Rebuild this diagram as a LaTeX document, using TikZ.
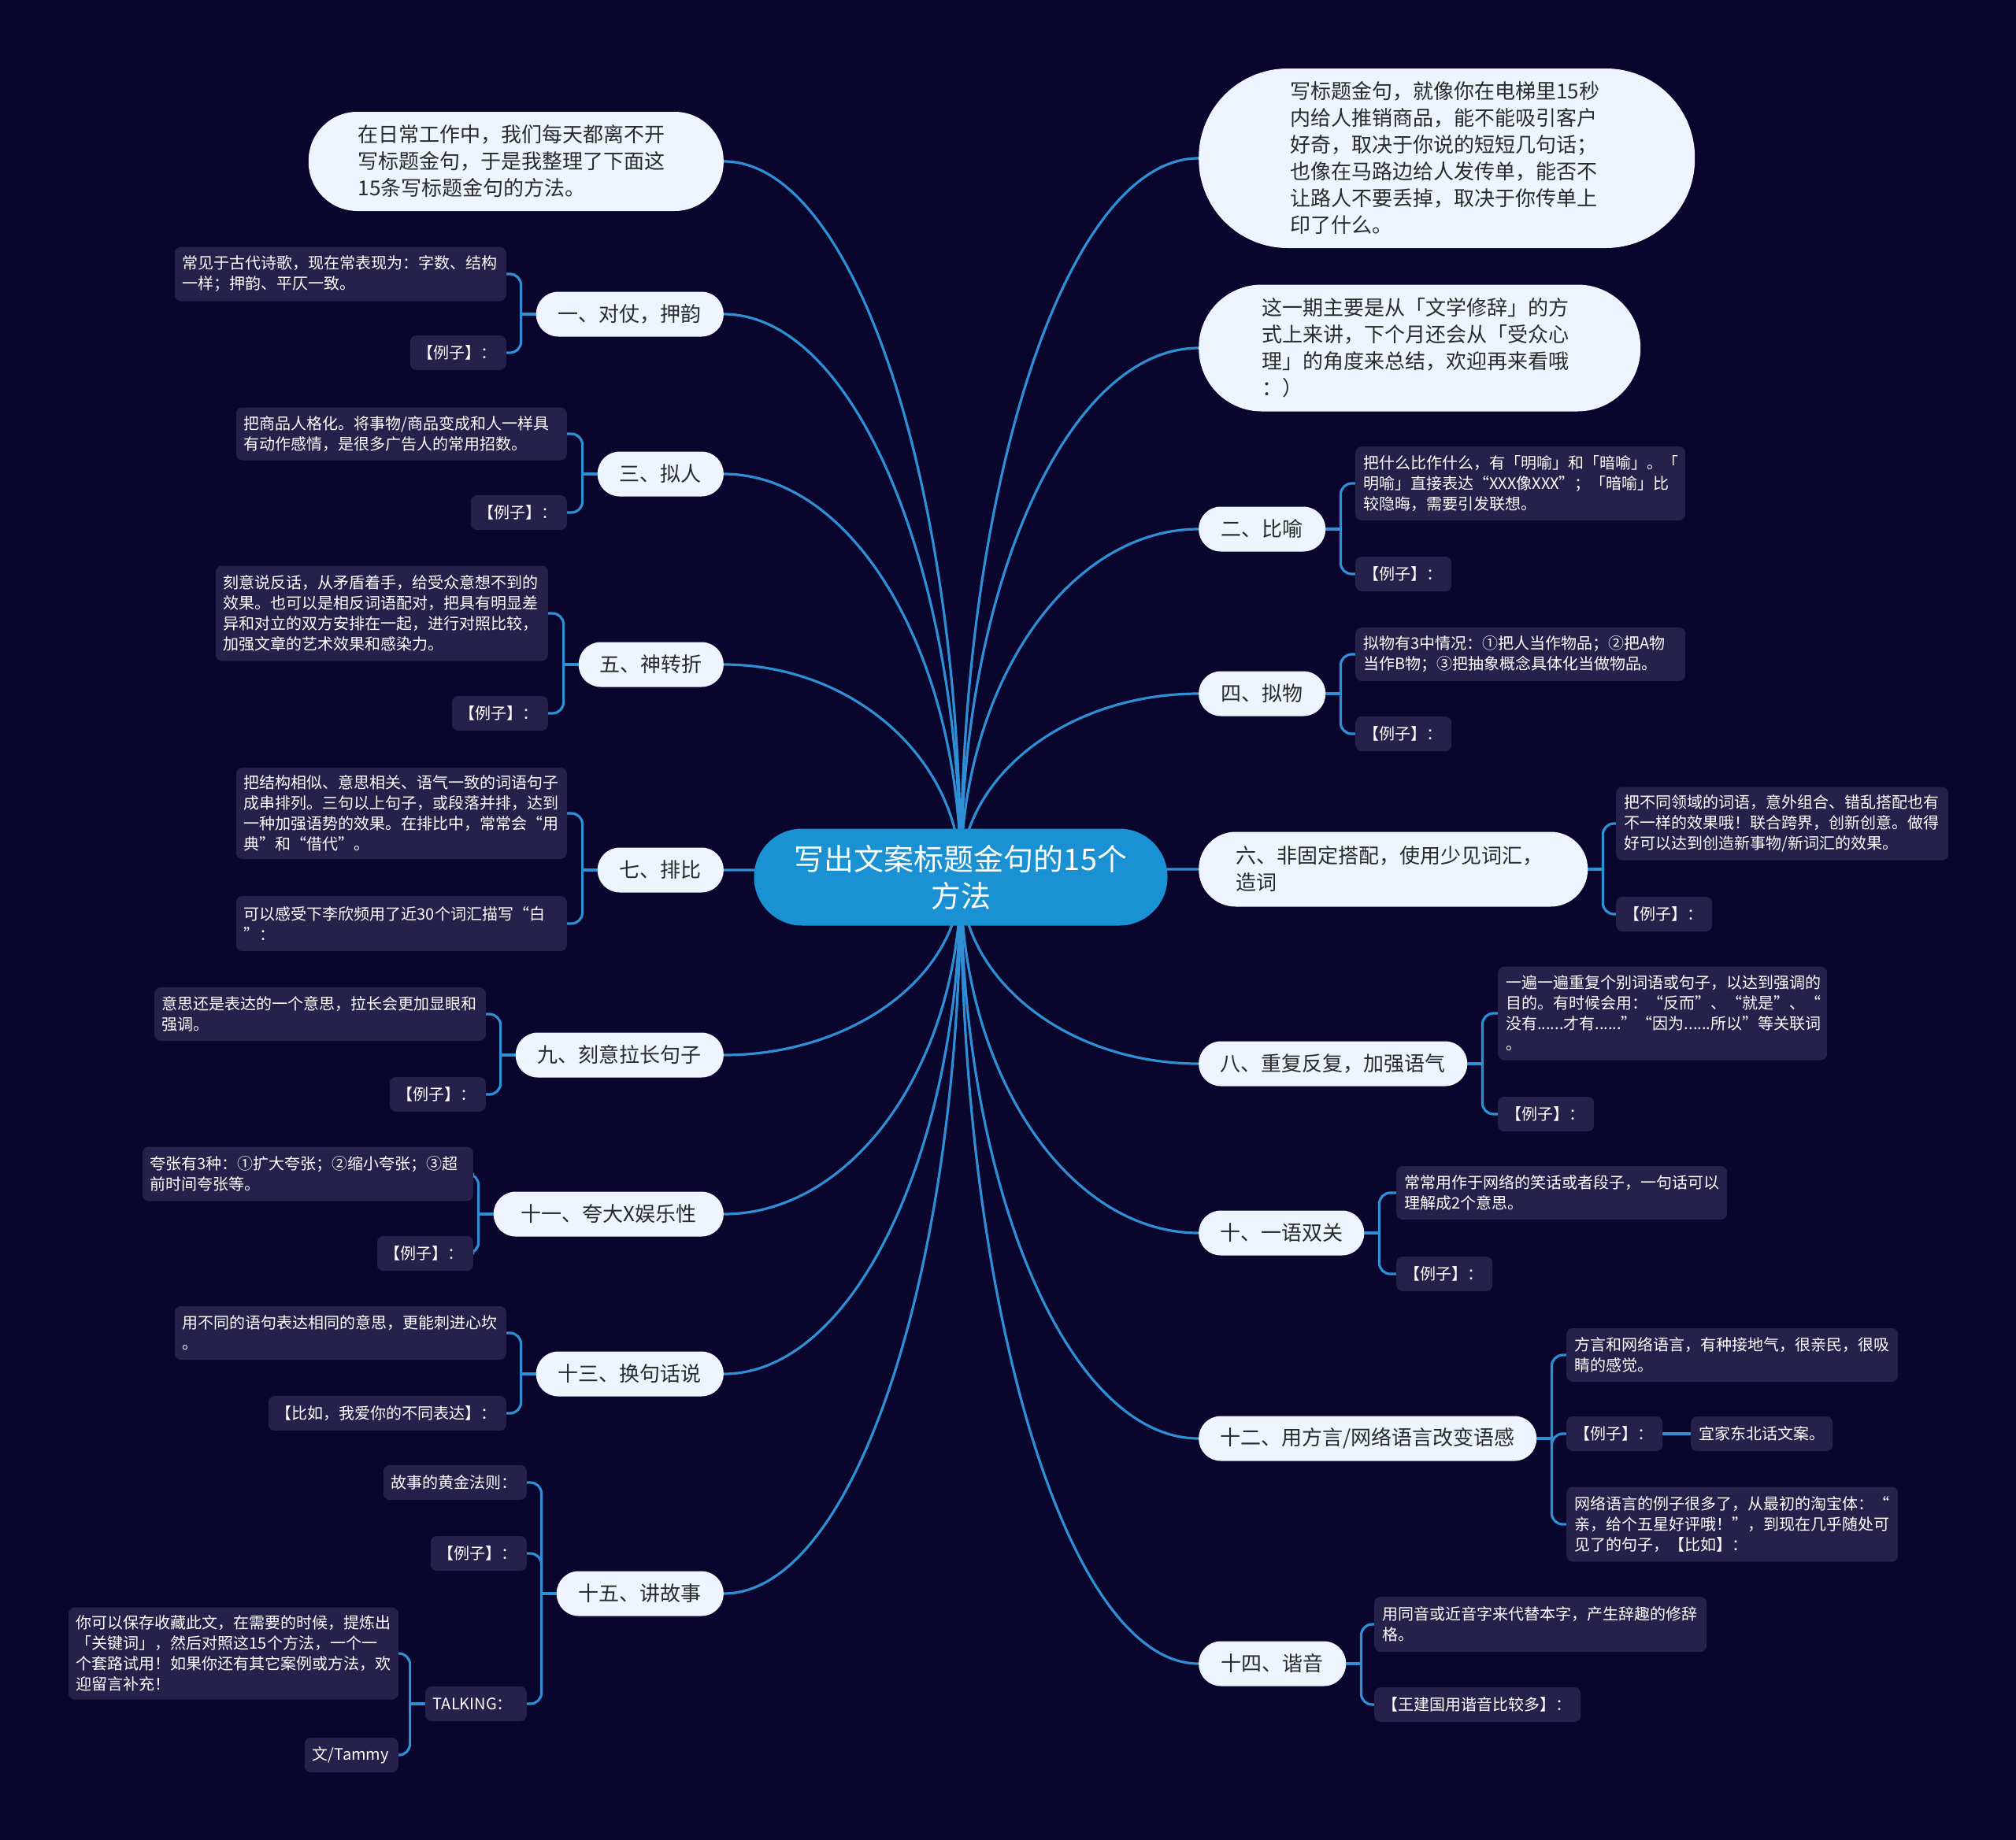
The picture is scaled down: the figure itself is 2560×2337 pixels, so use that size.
\documentclass[tikz,border=0pt]{standalone}
\usepackage{fontspec}
\setmainfont{Noto Sans CJK SC}
\usetikzlibrary{calc}
\definecolor{bgc}{HTML}{0A052C}
\definecolor{leafc}{HTML}{25214A}
\definecolor{linec}{HTML}{2E8FD5}
\definecolor{rootc}{HTML}{1A91D2}
\definecolor{brc}{HTML}{EEF4FD}
\definecolor{brtext}{HTML}{2A2A2A}
\pgfdeclarelayer{bglayer}
\pgfdeclarelayer{linelayer}
\pgfsetlayers{bglayer,linelayer,main}
\tikzset{
  leaf/.style={fill=leafc, rounded corners=8pt, text=white, font=\fontsize{20}{26}\selectfont, align=left, inner xsep=10pt, inner ysep=3pt, minimum height=44pt},
  lleaf/.style={leaf, anchor=east},
  rleaf/.style={leaf, anchor=west},
  branch/.style={fill=brc, text=brtext, font=\fontsize{26}{34}\selectfont, minimum height=57pt, rounded corners=28pt, inner xsep=0pt, inner ysep=0pt, align=center},
  note/.style={fill=brc, text=brtext, font=\fontsize{26}{34}\selectfont, align=left, inner ysep=0pt},
  conn/.style={draw=linec, line width=3.2pt, line cap=round},
}
\newcommand\rootlink[2]{\draw[conn] let \p1=(#1), \p2=(#2), \p3=($(#1)!0.55!(#2)$), \p4=($(#2)!0.55!(#1)$) in (\p1) .. controls (\x1,\y3) and (\x4,\y2) .. (\p2);}
\newcommand\leftleaf[2]{\draw[conn] (#1.west) -- ++(-19,0); \draw[conn, rounded corners=14pt] (#1.west) ++(-19,0) |- (#2.east);}
\newcommand\rightleaf[2]{\draw[conn] (#1.east) -- ++(19,0); \draw[conn, rounded corners=14pt] (#1.east) ++(19,0) |- (#2.west);}
\begin{document}
\begin{tikzpicture}[x=1pt, y=-1pt]
\begin{pgfonlayer}{bglayer}
\fill[bgc] (0,0) rectangle (2560,2337);
\end{pgfonlayer}
\useasboundingbox (0,0) rectangle (2560,2337);

% root
\node[fill=rootc, text=white, font=\fontsize{38}{47}\selectfont, minimum width=525pt, minimum height=123pt, rounded corners=61pt, align=center, inner sep=0pt] (root) at (1220,1114) {写出文案标题金句的15个\\方法};

% left notes and branches
\node[note, anchor=east, inner xsep=63pt, text width=401pt, minimum height=126pt, rounded corners=62pt] (intro) at (919,205) {在日常工作中，我们每天都离不开\\写标题金句，于是我整理了下面这\\15条写标题金句的方法。};
\node[branch, anchor=east, minimum width=238pt] (b1) at (919,399) {一、对仗，押韵};
\node[branch, anchor=east, minimum width=160pt] (b3) at (919,602) {三、拟人};
\node[branch, anchor=east, minimum width=184pt] (b5) at (919,844) {五、神转折};
\node[branch, anchor=east, minimum width=160pt] (b7) at (919,1105) {七、排比};
\node[branch, anchor=east, minimum width=264pt] (b9) at (919,1340) {九、刻意拉长句子};
\node[branch, anchor=east, minimum width=292pt] (b11) at (919,1542) {十一、夸大X娱乐性};
\node[branch, anchor=east, minimum width=238pt] (b13) at (919,1745) {十三、换句话说};
\node[branch, anchor=east, minimum width=212pt] (b15) at (919,2024) {十五、讲故事};

% right notes and branches
\node[note, anchor=west, inner xsep=116pt, text width=398pt, minimum height=228pt, rounded corners=113pt] (n1) at (1522,201) {写标题金句，就像你在电梯里15秒\\内给人推销商品，能不能吸引客户\\好奇，取决于你说的短短几句话；\\也像在马路边给人发传单，能否不\\让路人不要丢掉，取决于你传单上\\印了什么。};
\node[note, anchor=west, inner xsep=80pt, text width=401pt, minimum height=161pt, rounded corners=80pt] (n2) at (1522,442) {这一期主要是从「文学修辞」的方\\式上来讲，下个月还会从「受众心\\理」的角度来总结，欢迎再来看哦\\：）};
\node[branch, anchor=west, minimum width=161pt] (b2) at (1522,672) {二、比喻};
\node[branch, anchor=west, minimum width=161pt] (b4) at (1522,881) {四、拟物};
\node[branch, anchor=west, align=left, inner xsep=47pt, text width=400pt, minimum height=95pt, rounded corners=47pt] (b6) at (1522,1104) {六、非固定搭配，使用少见词汇，\\造词};
\node[branch, anchor=west, minimum width=341pt] (b8) at (1522,1351) {八、重复反复，加强语气};
\node[branch, anchor=west, minimum width=210pt] (b10) at (1522,1566) {十、一语双关};
\node[branch, anchor=west, minimum width=429pt] (b12) at (1522,1827) {十二、用方言/网络语言改变语感};
\node[branch, anchor=west, minimum width=187pt] (b14) at (1522,2113) {十四、谐音};

% left leaves
\node[lleaf, text width=401pt, minimum height=69pt] (l1a) at (643,348) {常见于古代诗歌，现在常表现为：字数、结构\\一样；押韵、平仄一致。};
\node[lleaf, text width=102pt] (l1b) at (643,448) {【例子】：};
\node[lleaf, text width=400pt, minimum height=67pt] (l3a) at (720,551) {把商品人格化。将事物/商品变成和人一样具\\有动作感情，是很多广告人的常用招数。};
\node[lleaf, text width=102pt] (l3b) at (720,651) {【例子】：};
\node[lleaf, text width=402pt, minimum height=121pt] (l5a) at (696,779) {刻意说反话，从矛盾着手，给受众意想不到的\\效果。也可以是相反词语配对，把具有明显差\\异和对立的双方安排在一起，进行对照比较，\\加强文章的艺术效果和感染力。};
\node[lleaf, text width=102pt] (l5b) at (696,906) {【例子】：};
\node[lleaf, text width=400pt, minimum height=116pt] (l7a) at (720,1033) {把结构相似、意思相关、语气一致的词语句子\\成串排列。三句以上句子，或段落并排，达到\\一种加强语势的效果。在排比中，常常会“用\\典”和“借代”。};
\node[lleaf, text width=400pt, minimum height=70pt] (l7b) at (720,1173) {可以感受下李欣频用了近30个词汇描写“白\\”：};
\node[lleaf, text width=401pt, minimum height=68pt] (l9a) at (617,1288) {意思还是表达的一个意思，拉长会更加显眼和\\强调。};
\node[lleaf, text width=102pt] (l9b) at (617,1390) {【例子】：};
\node[lleaf, text width=400pt, minimum height=69pt] (l11a) at (601,1491) {夸张有3种：①扩大夸张；②缩小夸张；③超\\前时间夸张等。};
\node[lleaf, text width=102pt] (l11b) at (601,1592) {【例子】：};
\node[lleaf, text width=401pt, minimum height=68pt] (l13a) at (643,1693) {用不同的语句表达相同的意思，更能刺进心坎\\。};
\node[lleaf, text width=282pt] (l13b) at (643,1795) {【比如，我爱你的不同表达】：};
\node[lleaf, text width=162pt] (l15a) at (669,1883) {故事的黄金法则：};
\node[lleaf, text width=102pt] (l15b) at (669,1973) {【例子】：};
\node[lleaf, text width=109pt] (l15c) at (669,2164) {TALKING：};
\node[lleaf, text width=399pt, minimum height=117pt] (t1) at (506,2100) {你可以保存收藏此文，在需要的时候，提炼出\\「关键词」，然后对照这15个方法，一个一\\个套路试用！如果你还有其它案例或方法，欢\\迎留言补充！};
\node[lleaf, text width=99pt] (t2) at (506,2229) {文/Tammy};

% right leaves
\node[rleaf, text width=399pt, minimum height=94pt] (l2a) at (1721,614) {把什么比作什么，有「明喻」和「暗喻」。「\\明喻」直接表达“XXX像XXX”；「暗喻」比\\较隐晦，需要引发联想。};
\node[rleaf, text width=102pt] (l2b) at (1721,729) {【例子】：};
\node[rleaf, text width=399pt, minimum height=68pt] (l4a) at (1721,831) {拟物有3中情况：①把人当作物品；②把A物\\当作B物；③把抽象概念具体化当做物品。};
\node[rleaf, text width=102pt] (l4b) at (1721,932) {【例子】：};
\node[rleaf, text width=402pt, minimum height=93pt] (l6a) at (2052,1046) {把不同领域的词语，意外组合、错乱搭配也有\\不一样的效果哦！联合跨界，创新创意。做得\\好可以达到创造新事物/新词汇的效果。};
\node[rleaf, text width=102pt] (l6b) at (2052,1161) {【例子】：};
\node[rleaf, text width=398pt, minimum height=119pt] (l8a) at (1902,1287) {一遍一遍重复个别词语或句子，以达到强调的\\目的。有时候会用：“反而”、“就是”、“\\没有......才有......”“因为......所以”等关联词\\。};
\node[rleaf, text width=102pt] (l8b) at (1902,1415) {【例子】：};
\node[rleaf, text width=400pt, minimum height=68pt] (l10a) at (1773,1515) {常常用作于网络的笑话或者段子，一句话可以\\理解成2个意思。};
\node[rleaf, text width=102pt] (l10b) at (1773,1618) {【例子】：};
\node[rleaf, text width=401pt, minimum height=68pt] (l12a) at (1989,1721) {方言和网络语言，有种接地气，很亲民，很吸\\睛的感觉。};
\node[rleaf, text width=102pt] (l12b) at (1989,1821) {【例子】：};
\node[rleaf, text width=160pt] (l12x) at (2147,1821) {宜家东北话文案。};
\node[rleaf, text width=401pt, minimum height=95pt] (l12c) at (1989,1936) {网络语言的例子很多了，从最初的淘宝体：“\\亲，给个五星好评哦！”，到现在几乎随处可\\见了的句子，【比如】：};
\node[rleaf, text width=402pt, minimum height=70pt] (l14a) at (1745,2063) {用同音或近音字来代替本字，产生辞趣的修辞\\格。};
\node[rleaf, text width=242pt] (l14b) at (1745,2165) {【王建国用谐音比较多】：};

\begin{pgfonlayer}{linelayer}
% root links
\rootlink{root.center}{intro.east}
\rootlink{root.center}{b1.east}
\rootlink{root.center}{b3.east}
\rootlink{root.center}{b5.east}
\rootlink{root.center}{b7.east}
\rootlink{root.center}{b9.east}
\rootlink{root.center}{b11.east}
\rootlink{root.center}{b13.east}
\rootlink{root.center}{b15.east}
\rootlink{root.center}{n1.west}
\rootlink{root.center}{n2.west}
\rootlink{root.center}{b2.west}
\rootlink{root.center}{b4.west}
\rootlink{root.center}{b6.west}
\rootlink{root.center}{b8.west}
\rootlink{root.center}{b10.west}
\rootlink{root.center}{b12.west}
\rootlink{root.center}{b14.west}
% left brackets
\leftleaf{b1}{l1a} \leftleaf{b1}{l1b}
\leftleaf{b3}{l3a} \leftleaf{b3}{l3b}
\leftleaf{b5}{l5a} \leftleaf{b5}{l5b}
\leftleaf{b7}{l7a} \leftleaf{b7}{l7b}
\leftleaf{b9}{l9a} \leftleaf{b9}{l9b}
\leftleaf{b11}{l11a} \leftleaf{b11}{l11b}
\leftleaf{b13}{l13a} \leftleaf{b13}{l13b}
\leftleaf{b15}{l15a} \leftleaf{b15}{l15b} \leftleaf{b15}{l15c}
\leftleaf{l15c}{t1} \leftleaf{l15c}{t2}
% right brackets
\rightleaf{b2}{l2a} \rightleaf{b2}{l2b}
\rightleaf{b4}{l4a} \rightleaf{b4}{l4b}
\rightleaf{b6}{l6a} \rightleaf{b6}{l6b}
\rightleaf{b8}{l8a} \rightleaf{b8}{l8b}
\rightleaf{b10}{l10a} \rightleaf{b10}{l10b}
\rightleaf{b12}{l12a} \rightleaf{b12}{l12b} \rightleaf{b12}{l12c}
\draw[conn] (l12b.east) -- (l12x.west);
\rightleaf{b14}{l14a} \rightleaf{b14}{l14b}
\end{pgfonlayer}
\end{tikzpicture}
\end{document}
